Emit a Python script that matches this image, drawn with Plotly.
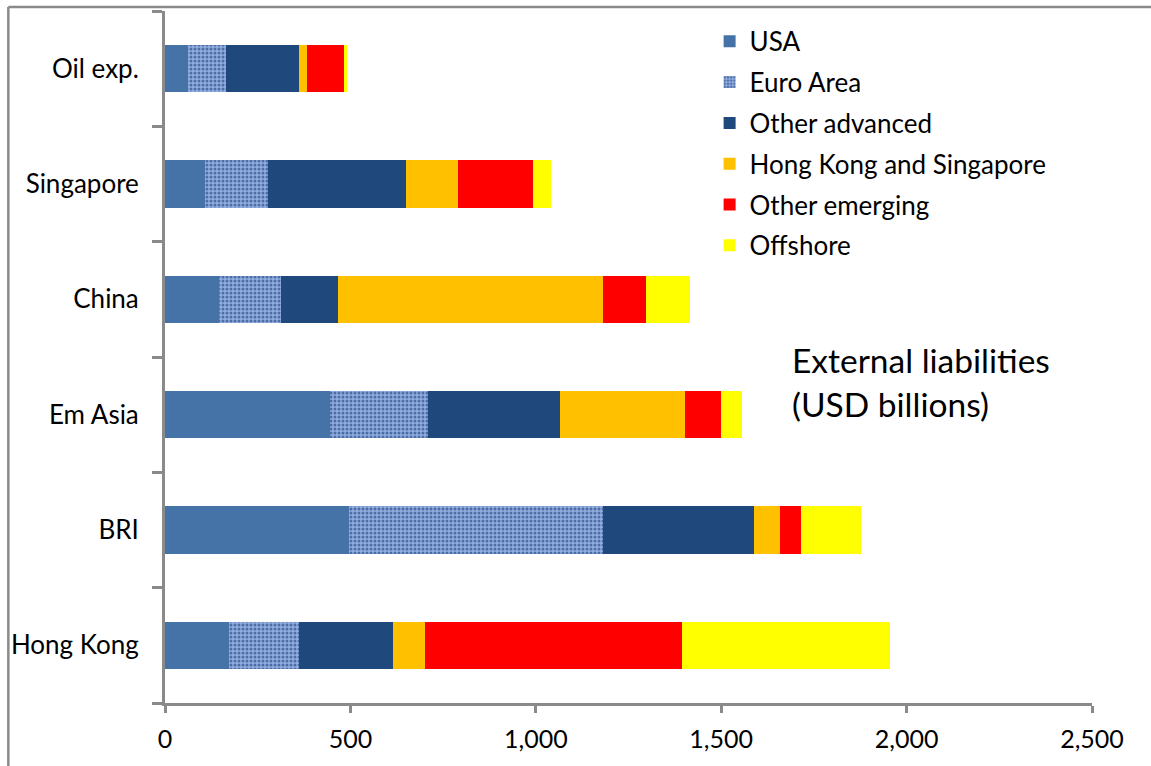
import plotly.graph_objects as go

# Regions, listed bottom to top as they appear on the category axis
regions = ["Hong Kong", "BRI", "Em Asia", "China", "Singapore", "Oil exp."]

# External liabilities by counterparty (USD billions)
usa = [172, 495, 444, 145, 108, 62]
euro_area = [189, 686, 264, 167, 171, 102]
other_advanced = [253, 407, 358, 154, 372, 197]
hk_singapore = [88, 70, 336, 715, 140, 21]
other_emerging = [692, 56, 97, 116, 202, 100]
offshore = [560, 164, 57, 119, 48, 10]

x_ticks = [0, 500, 1000, 1500, 2000, 2500]

FONT = "Lato"
AXIS_GREY = "#8a8a8a"

series = [
    ("USA", usa, dict(color="#4573A7")),
    ("Euro Area", euro_area, dict(
        color="#8FAADC",
        pattern=dict(shape=".", fillmode="replace", bgcolor="#92AEDF",
                     fgcolor="#4D6DA6", size=4, solidity=0.45))),
    ("Other advanced", other_advanced, dict(color="#1F497D")),
    ("Hong Kong and Singapore", hk_singapore, dict(color="#FFC000")),
    ("Other emerging", other_emerging, dict(color="#FF0000")),
    ("Offshore", offshore, dict(color="#FFFF00")),
]

fig = go.Figure()
for name, vals, marker in series:
    fig.add_trace(go.Bar(
        y=regions, x=vals, name=name, orientation="h",
        marker=dict(line=dict(width=0), **marker),
        legendgroup=name,
    ))

fig.update_layout(
    width=1151, height=766,
    margin=dict(l=163, r=59, t=11, b=63),
    paper_bgcolor="white", plot_bgcolor="white",
    barmode="stack", bargap=0.59,
    font=dict(family=FONT, size=26, color="black"),
    legend=dict(
        x=0.5875, y=0.99, xanchor="left", yanchor="top",
        traceorder="grouped", tracegroupgap=4,
        font=dict(family=FONT, size=26),
        bgcolor="rgba(0,0,0,0)",
    ),
    xaxis=dict(
        range=[0, 2500], tickvals=x_ticks, tickformat=",",
        ticks="outside", ticklen=7, tickwidth=3, tickcolor=AXIS_GREY,
        showline=True, linecolor=AXIS_GREY, linewidth=3,
        showgrid=False, zeroline=False,
        ticklabelstandoff=5,
        tickfont=dict(size=25),
    ),
    yaxis=dict(
        ticks="outside", ticklen=10, tickwidth=3, tickcolor=AXIS_GREY,
        tickson="boundaries",
        showline=True, linecolor=AXIS_GREY, linewidth=3,
        showgrid=False, zeroline=False,
        ticklabelstandoff=18,
        tickfont=dict(size=26),
    ),
    annotations=[dict(
        text="External liabilities<br>(USD billions)",
        xref="paper", yref="paper", x=0.674, y=0.464,
        xanchor="left", yanchor="middle", align="left",
        showarrow=False, font=dict(family=FONT, size=33.5),
    )],
    shapes=[
        # chart frame (left and top edges)
        dict(type="line", xref="paper", yref="paper",
             x0=-0.169, x1=-0.169, y0=1.0058, y1=-0.2,
             line=dict(color=AXIS_GREY, width=2.5)),
        dict(type="line", xref="paper", yref="paper",
             x0=-0.169, x1=1.2, y0=1.0058, y1=1.0058,
             line=dict(color=AXIS_GREY, width=2.5)),
    ],
)

fig.write_html("out.html")
